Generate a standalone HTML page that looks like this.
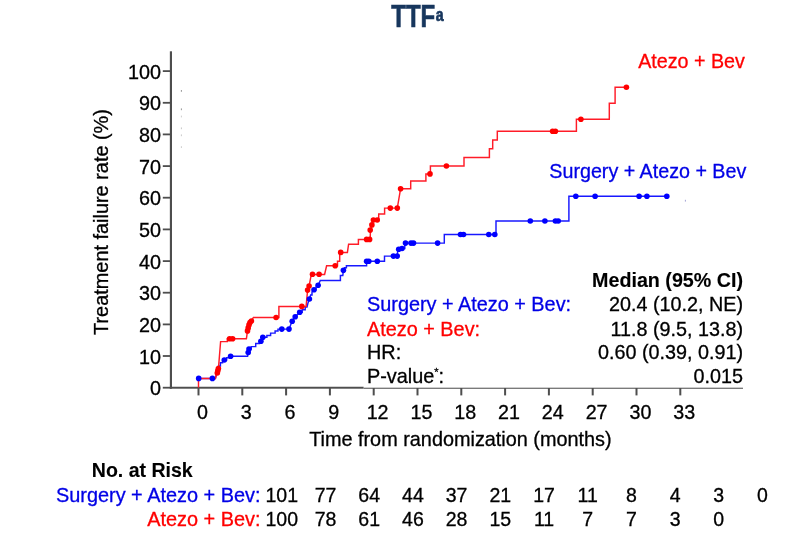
<!DOCTYPE html>
<html lang="en"><head><meta charset="utf-8"><title>TTF</title>
<style>html,body{margin:0;padding:0;background:#fff}body{width:804px;height:536px;overflow:hidden}svg{display:block;will-change:transform}text{font-family:"Liberation Sans",Arial,Helvetica,sans-serif;fill:#000;stroke:#000;stroke-width:0.3px}.b{fill:#0000e6;stroke:#0000e6}.r{fill:#ff0000;stroke:#ff0000}.bd{font-weight:bold;stroke-width:0.12px}</style></head><body>
<svg width="804" height="536" viewBox="0 0 804 536">
<rect width="804" height="536" fill="#fff"/>
<g transform="translate(391.3,27.3) scale(0.776,1)"><text class="bd" x="0" y="0" font-size="30.9" style="fill:#17365d;stroke:#17365d;stroke-width:0.7px">TTF<tspan font-size="18.2" dy="-6.3" dx="0.8">a</tspan></text></g>
<rect x="169.85" y="51.3" width="2.15" height="337.4" fill="#4e4e4e"/>
<rect x="162.8" y="386.8" width="8" height="1.8" fill="#4e4e4e"/>
<text x="161" y="395.3" font-size="19.8" text-anchor="end">0</text>
<rect x="162.8" y="355.1" width="8" height="1.8" fill="#4e4e4e"/>
<text x="161" y="363.6" font-size="19.8" text-anchor="end">10</text>
<rect x="162.8" y="323.5" width="8" height="1.8" fill="#4e4e4e"/>
<text x="161" y="332.0" font-size="19.8" text-anchor="end">20</text>
<rect x="162.8" y="291.8" width="8" height="1.8" fill="#4e4e4e"/>
<text x="161" y="300.3" font-size="19.8" text-anchor="end">30</text>
<rect x="162.8" y="260.2" width="8" height="1.8" fill="#4e4e4e"/>
<text x="161" y="268.7" font-size="19.8" text-anchor="end">40</text>
<rect x="162.8" y="228.5" width="8" height="1.8" fill="#4e4e4e"/>
<text x="161" y="237.0" font-size="19.8" text-anchor="end">50</text>
<rect x="162.8" y="196.8" width="8" height="1.8" fill="#4e4e4e"/>
<text x="161" y="205.3" font-size="19.8" text-anchor="end">60</text>
<rect x="162.8" y="165.2" width="8" height="1.8" fill="#4e4e4e"/>
<text x="161" y="173.7" font-size="19.8" text-anchor="end">70</text>
<rect x="162.8" y="133.5" width="8" height="1.8" fill="#4e4e4e"/>
<text x="161" y="142.0" font-size="19.8" text-anchor="end">80</text>
<rect x="162.8" y="101.9" width="8" height="1.8" fill="#4e4e4e"/>
<text x="161" y="110.4" font-size="19.8" text-anchor="end">90</text>
<rect x="162.8" y="70.2" width="8" height="1.8" fill="#4e4e4e"/>
<text x="161" y="78.7" font-size="19.8" text-anchor="end">100</text>
<rect x="169.85" y="386.75" width="193.75" height="1.95" fill="#4e4e4e"/>
<rect x="363.6" y="387.7" width="379.4" height="1.1" fill="#5a5a5a"/>
<rect x="197.5" y="388" width="2" height="7.4" fill="#4e4e4e"/>
<text x="202.4" y="419.2" font-size="19.7" text-anchor="middle">0</text>
<rect x="241.3" y="388" width="2" height="7.4" fill="#4e4e4e"/>
<text x="246.2" y="419.2" font-size="19.7" text-anchor="middle">3</text>
<rect x="285.1" y="388" width="2" height="7.4" fill="#4e4e4e"/>
<text x="290.0" y="419.2" font-size="19.7" text-anchor="middle">6</text>
<rect x="328.9" y="388" width="2" height="7.4" fill="#4e4e4e"/>
<text x="333.8" y="419.2" font-size="19.7" text-anchor="middle">9</text>
<rect x="372.7" y="388" width="2" height="7.4" fill="#4e4e4e"/>
<text x="377.6" y="419.2" font-size="19.7" text-anchor="middle">12</text>
<rect x="416.5" y="388" width="2" height="7.4" fill="#4e4e4e"/>
<text x="421.4" y="419.2" font-size="19.7" text-anchor="middle">15</text>
<rect x="460.3" y="388" width="2" height="7.4" fill="#4e4e4e"/>
<text x="465.2" y="419.2" font-size="19.7" text-anchor="middle">18</text>
<rect x="504.1" y="388" width="2" height="7.4" fill="#4e4e4e"/>
<text x="509.0" y="419.2" font-size="19.7" text-anchor="middle">21</text>
<rect x="547.9" y="388" width="2" height="7.4" fill="#4e4e4e"/>
<text x="552.8" y="419.2" font-size="19.7" text-anchor="middle">24</text>
<rect x="591.7" y="388" width="2" height="7.4" fill="#4e4e4e"/>
<text x="596.6" y="419.2" font-size="19.7" text-anchor="middle">27</text>
<rect x="635.5" y="388" width="2" height="7.4" fill="#4e4e4e"/>
<text x="640.4" y="419.2" font-size="19.7" text-anchor="middle">30</text>
<rect x="679.3" y="388" width="2" height="7.4" fill="#4e4e4e"/>
<text x="684.2" y="419.2" font-size="19.7" text-anchor="middle">33</text>
<text x="460.4" y="445.8" font-size="19.85" text-anchor="middle">Time from randomization (months)</text>
<text transform="translate(107.6,222) rotate(-90)" font-size="19.9" text-anchor="middle">Treatment failure rate (%)</text>
<rect x="180.9" y="90.0" width="0.9" height="1.8" fill="#8a8a8a"/>
<rect x="180.9" y="108.4" width="0.9" height="1.8" fill="#8a8a8a"/>
<rect x="180.9" y="115.6" width="0.9" height="1.8" fill="#c8c8c8"/>
<rect x="180.9" y="127.4" width="0.9" height="1.8" fill="#c0c0c0"/>
<rect x="180.9" y="134.4" width="0.9" height="1.8" fill="#c4c4c4"/>
<rect x="180.9" y="146.2" width="0.9" height="1.8" fill="#c8c8c8"/>
<rect x="684.9" y="199.8" width="0.9" height="1.8" fill="#9a9ad0"/>
<path d="M198.7,378.4 H215.4 L216.5,374 L218.4,366 H220.4 V362.8 H222.6 V360 H226.6 V357.8 H229 V356.3 H247.6 L248.2,352.5 L249,349.1 H251.2 V346.6 H255.7 V343.4 H259.4 V341.3 H260.9 L262.8,337.3 H266.9 V335.4 H270.6 V333.1 H275.1 V330.9 H278 V329.1 H289.2 L290.6,325 L292.2,321.2 L293.4,319 L295.2,316.7 L297.4,314.4 L299.7,312.2 H302.2 V309.8 H305.2 V307 H307 L308,303 L309.4,299 L310.6,295 H312 V292 L314,289.7 H316 V287 L318.1,285.2 L320.3,280.5 H340.4 V275.5 H342.8 L343.4,270.3 H344.6 V267.8 H346.4 V265.8 H366.6 V261.3 H384.5 V256.1 H397.2 L398,248.5 H404.8 V243.1 H444.3 V234.5 H496 V221 H568.9 V196.2 H666.8" fill="none" stroke="#1818ff" stroke-width="1.45" stroke-linejoin="miter"/>
<path d="M198.5,387.6 V378.4 H215.4 L216.1,375.7 L218.4,369 L220.6,341.6 H227.3 V338.7 H246.4 L247.5,330.9 L249,324.9 L251.2,321.2 L253.4,317.5 H278.9 V306.4 H306.1 L307.6,290.1 L309.1,286 L311.3,274.4 H324.6 L326.6,265.8 H337.5 V261.3 H339.7 V252.4 H347.4 L348.6,244.2 H358.4 V239.4 H370.2 L370.4,230.1 L371.9,224.9 L373.4,220 H378.7 V214 H384.6 V208.1 H397.3 L400.6,188.7 H410.7 V180.9 H425.9 V173.9 H430.4 V166 H464 V157.5 H489.4 V148.8 H492.7 V139.9 H497.3 V131.2 H576.4 V119.3 H609.3 V103.3 H615.1 V87.2 H626.4" fill="none" stroke="#ff1c28" stroke-width="1.45" stroke-linejoin="miter"/>
<g fill="#0000ff"><circle cx="198.7" cy="378.4" r="2.8"/><circle cx="212.4" cy="378.4" r="2.8"/><circle cx="224.3" cy="360" r="2.8"/><circle cx="230.6" cy="356.3" r="2.8"/><circle cx="248.2" cy="352.5" r="2.8"/><circle cx="249" cy="349.1" r="2.8"/><circle cx="260.9" cy="341.3" r="2.8"/><circle cx="262.8" cy="337.3" r="2.8"/><circle cx="281.8" cy="329.1" r="2.8"/><circle cx="289" cy="329.1" r="2.8"/><circle cx="292.2" cy="321.2" r="2.8"/><circle cx="295.2" cy="316.7" r="2.8"/><circle cx="299.7" cy="312.2" r="2.8"/><circle cx="309.4" cy="299" r="2.8"/><circle cx="314" cy="289.7" r="2.8"/><circle cx="318.1" cy="285.2" r="2.8"/><circle cx="343.4" cy="270.3" r="2.8"/><circle cx="366.6" cy="261.3" r="2.8"/><circle cx="368.8" cy="261.3" r="2.8"/><circle cx="377.3" cy="261.3" r="2.8"/><circle cx="393.4" cy="256.1" r="2.8"/><circle cx="397.2" cy="256.1" r="2.8"/><circle cx="398.7" cy="249.2" r="2.8"/><circle cx="402" cy="248.5" r="2.8"/><circle cx="405.5" cy="243.1" r="2.8"/><circle cx="411" cy="243.1" r="2.8"/><circle cx="413.5" cy="243.1" r="2.8"/><circle cx="437.6" cy="243.1" r="2.8"/><circle cx="460.5" cy="234.5" r="2.8"/><circle cx="463.5" cy="234.5" r="2.8"/><circle cx="488.8" cy="234.5" r="2.8"/><circle cx="494.8" cy="234.5" r="2.8"/><circle cx="530.3" cy="221" r="2.8"/><circle cx="544.9" cy="221" r="2.8"/><circle cx="555.4" cy="221" r="2.8"/><circle cx="558.2" cy="221" r="2.8"/><circle cx="575.8" cy="196.2" r="2.8"/><circle cx="595.1" cy="196.2" r="2.8"/><circle cx="639.1" cy="196.2" r="2.8"/><circle cx="646.9" cy="196.2" r="2.8"/><circle cx="666.8" cy="196.2" r="2.8"/></g>
<g fill="#ff0000"><circle cx="217.3" cy="373" r="2.8"/><circle cx="217.8" cy="370.8" r="2.8"/><circle cx="218.4" cy="368.5" r="2.8"/><circle cx="229.6" cy="338.8" r="2.8"/><circle cx="232.6" cy="338.8" r="2.8"/><circle cx="247.5" cy="330.9" r="2.8"/><circle cx="248.2" cy="327.9" r="2.8"/><circle cx="249" cy="324.9" r="2.8"/><circle cx="250" cy="322.6" r="2.8"/><circle cx="251.4" cy="321" r="2.8"/><circle cx="276.1" cy="317.5" r="2.8"/><circle cx="301.8" cy="306.4" r="2.8"/><circle cx="307.6" cy="290.1" r="2.8"/><circle cx="309.1" cy="286" r="2.8"/><circle cx="312.5" cy="274.3" r="2.8"/><circle cx="319.1" cy="274.3" r="2.8"/><circle cx="335.2" cy="265.8" r="2.8"/><circle cx="340.7" cy="252.4" r="2.8"/><circle cx="366.6" cy="239.4" r="2.8"/><circle cx="369.6" cy="239.4" r="2.8"/><circle cx="370.2" cy="230.1" r="2.8"/><circle cx="371.9" cy="224.9" r="2.8"/><circle cx="373.4" cy="220" r="2.8"/><circle cx="377.2" cy="220" r="2.8"/><circle cx="390.3" cy="208.1" r="2.8"/><circle cx="397.3" cy="208.1" r="2.8"/><circle cx="400.6" cy="188.7" r="2.8"/><circle cx="430" cy="173.9" r="2.8"/><circle cx="446.4" cy="166" r="2.8"/><circle cx="552.6" cy="131.2" r="2.8"/><circle cx="555.4" cy="131.2" r="2.8"/><circle cx="580.9" cy="119.3" r="2.8"/><circle cx="626.4" cy="87.2" r="2.8"/></g>
<text class="r" x="638.2" y="68" font-size="19.7">Atezo + Bev</text>
<text class="b" x="549.3" y="177.9" font-size="19.7">Surgery + Atezo + Bev</text>
<text class="bd" x="743" y="286.9" font-size="19.7" text-anchor="end">Median (95% CI)</text>
<text class="b" x="367" y="311.3" font-size="19.85">Surgery + Atezo + Bev:</text>
<text x="743" y="311.3" font-size="19.75" text-anchor="end">20.4 (10.2, NE)</text>
<text class="r" x="367" y="335.9" font-size="19.85">Atezo + Bev:</text>
<text x="743" y="335.9" font-size="19.75" text-anchor="end">11.8 (9.5, 13.8)</text>
<text x="367" y="359" font-size="19.85">HR:</text>
<text x="743" y="359" font-size="19.75" text-anchor="end">0.60 (0.39, 0.91)</text>
<text x="367" y="382.6" font-size="19.85">P-value<tspan font-size="11" dy="-7">*</tspan><tspan dy="7">:</tspan></text>
<text x="743" y="382.6" font-size="19.75" text-anchor="end">0.015</text>
<text class="bd" x="91.8" y="476.6" font-size="19.55">No. at Risk</text>
<text class="b" x="260.5" y="502.3" font-size="19.9" text-anchor="end">Surgery + Atezo + Bev:</text>
<text class="r" x="260.5" y="525.9" font-size="19.9" text-anchor="end">Atezo + Bev:</text>
<text x="281.8" y="502.3" font-size="19.5" text-anchor="middle">101</text>
<text x="325.5" y="502.3" font-size="19.5" text-anchor="middle">77</text>
<text x="369.2" y="502.3" font-size="19.5" text-anchor="middle">64</text>
<text x="412.9" y="502.3" font-size="19.5" text-anchor="middle">44</text>
<text x="456.6" y="502.3" font-size="19.5" text-anchor="middle">37</text>
<text x="500.3" y="502.3" font-size="19.5" text-anchor="middle">21</text>
<text x="544.0" y="502.3" font-size="19.5" text-anchor="middle">17</text>
<text x="587.7" y="502.3" font-size="19.5" text-anchor="middle">11</text>
<text x="631.4" y="502.3" font-size="19.5" text-anchor="middle">8</text>
<text x="675.1" y="502.3" font-size="19.5" text-anchor="middle">4</text>
<text x="718.8" y="502.3" font-size="19.5" text-anchor="middle">3</text>
<text x="762.5" y="502.3" font-size="19.5" text-anchor="middle">0</text>
<text x="281.8" y="525.9" font-size="19.5" text-anchor="middle">100</text>
<text x="325.5" y="525.9" font-size="19.5" text-anchor="middle">78</text>
<text x="369.2" y="525.9" font-size="19.5" text-anchor="middle">61</text>
<text x="412.9" y="525.9" font-size="19.5" text-anchor="middle">46</text>
<text x="456.6" y="525.9" font-size="19.5" text-anchor="middle">28</text>
<text x="500.3" y="525.9" font-size="19.5" text-anchor="middle">15</text>
<text x="544.0" y="525.9" font-size="19.5" text-anchor="middle">11</text>
<text x="587.7" y="525.9" font-size="19.5" text-anchor="middle">7</text>
<text x="631.4" y="525.9" font-size="19.5" text-anchor="middle">7</text>
<text x="675.1" y="525.9" font-size="19.5" text-anchor="middle">3</text>
<text x="718.8" y="525.9" font-size="19.5" text-anchor="middle">0</text>
</svg></body></html>
